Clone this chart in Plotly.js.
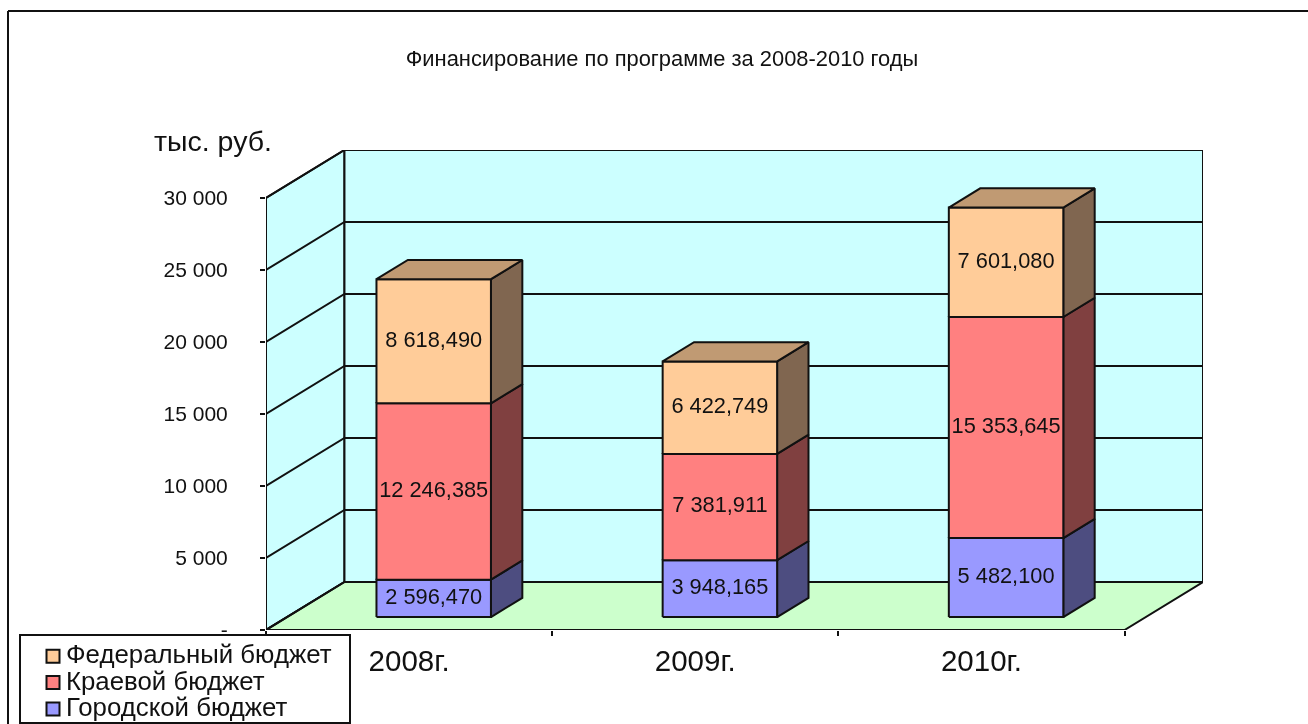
<!DOCTYPE html>
<html>
<head>
<meta charset="utf-8">
<script src="https://cdn.plot.ly/plotly-3.0.1.min.js"></script>
<style>
html,body{margin:0;padding:0;background:#fff;overflow:hidden}
#chart{width:1308px;height:724px;filter:blur(0.4px)}
.legend .legendsymbols{transform:translate(12px,2px)}
.legend .legendtext{font-size:25.8px !important;transform:translate(5px,2px)}
.legend rect.bg{width:330px !important;height:88px !important}
.legend .scrollbox{clip-path:none !important}
</style>
</head>
<body>
<div id="chart"></div>
<script>
const categories = ['2008г.', '2009г.', '2010г.'];
const cityBudget = [2596.470, 3948.165, 5482.100];
const regionalBudget = [12246.385, 7381.911, 15353.645];
const federalBudget = [8618.490, 6422.749, 7601.080];
const yTickValues = [0, 5000, 10000, 15000, 20000, 25000, 30000];
const yTickLabels = ['-', '5 000', '10 000', '15 000', '20 000', '25 000', '30 000'];
const seriesNames = ['Городской бюджет', 'Краевой бюджет', 'Федеральный бюджет'];
const frontColors = ['#9999FF', '#FF8080', '#FFCC99'];
const sideColors = ['#4D4D80', '#804040', '#806650'];
const topColor = '#C09A73';

const W = 1308, H = 724, L = 266, R = 1203, T = 150, B = 630;
const depthX = 78.5 / 286.33, depthY = 48 / 72 * 5000;
const yMax = 30000, catCount = categories.length;
const barHalf = 0.2, barShift = 0.512, d0 = 0.27, d1 = 0.67;
const ink = '#111';
const P = (c, v, d) => [c + d * depthX, v + d * depthY];

function faceTrace(polys, fill) {
  const x = [], y = [];
  polys.forEach(pg => {
    pg.concat([pg[0]]).forEach(p => { x.push(p[0]); y.push(p[1]); });
    x.push(null); y.push(null);
  });
  return {type:'scatter', mode:'lines', x, y, fill:'toself', fillcolor:fill,
    line:{color:ink, width:2}, showlegend:false, hoverinfo:'skip', cliponaxis:false};
}
function lineTrace(segs) {
  const x = [], y = [];
  segs.forEach(s => {
    s.forEach(p => { x.push(p[0]); y.push(p[1]); });
    x.push(null); y.push(null);
  });
  return {type:'scatter', mode:'lines', x, y, line:{color:ink, width:2},
    showlegend:false, hoverinfo:'skip', cliponaxis:false};
}
function fmt(v) {
  const parts = v.toFixed(3).split('.');
  return parts[0].replace(/\B(?=(\d{3})+$)/g, ' ') + ',' + parts[1];
}

const stacks = [cityBudget, regionalBudget, federalBudget];
const traces = [];

// walls and floor
traces.push(faceTrace([[P(0,0,0),P(0,yMax,0),P(0,yMax,1),P(0,0,1)]], '#CCFFFF'));
traces.push(faceTrace([[P(0,0,1),P(0,yMax,1),P(catCount,yMax,1),P(catCount,0,1)]], '#CCFFFF'));
traces.push(faceTrace([[P(0,0,0),P(0,0,1),P(catCount,0,1),P(catCount,0,0)]], '#CCFFCC'));
traces.push(lineTrace(yTickValues.map(v => [P(0,v,0),P(0,v,1),P(catCount,v,1)])));

// legend carriers, lying under the bar fronts
[2,1,0].forEach(s => {
  const base = categories.map((_,i) => stacks.slice(0,s).reduce((a,b)=>a+b[i],0));
  traces.push({type:'scatter', mode:'markers', name:seriesNames[s],
    x:categories.map((_,i)=>i+barShift+d0*depthX),
    y:categories.map((_,i)=>base[i]+stacks[s][i]/2+d0*depthY),
    marker:{symbol:'square', size:13, color:frontColors[s], line:{color:ink, width:2}},
    hoverinfo:'skip', cliponaxis:false});
});

// stacked boxes
stacks.forEach((vals, s) => {
  const fronts = [], sides = [];
  vals.forEach((v, i) => {
    const base = stacks.slice(0,s).reduce((a,b)=>a+b[i],0);
    const a = i + barShift - barHalf, b = i + barShift + barHalf;
    fronts.push([P(a,base,d0),P(a,base+v,d0),P(b,base+v,d0),P(b,base,d0)]);
    sides.push([P(b,base,d0),P(b,base+v,d0),P(b,base+v,d1),P(b,base,d1)]);
  });
  traces.push(faceTrace(sides, sideColors[s]));
  traces.push(faceTrace(fronts, frontColors[s]));
});
const tops = categories.map((_,i) => {
  const t = stacks.reduce((a,b)=>a+b[i],0);
  const a = i + barShift - barHalf, b = i + barShift + barHalf;
  return [P(a,t,d0),P(a,t,d1),P(b,t,d1),P(b,t,d0)];
});
traces.push(faceTrace(tops, topColor));

// value labels
stacks.forEach((vals, s) => {
  const bases = vals.map((_,i) => stacks.slice(0,s).reduce((a,b)=>a+b[i],0));
  traces.push({type:'scatter', mode:'text',
    x:vals.map((_,i)=>i+barShift+d0*depthX),
    y:vals.map((v,i)=>bases[i]+v/2+d0*depthY),
    text:vals.map(fmt), textposition:'middle center',
    textfont:{family:'Liberation Sans, Arial, sans-serif', size:21.8, color:ink},
    showlegend:false, hoverinfo:'skip', cliponaxis:false});
});

const px = v => (v - L) / (R - L);
const py = v => (B - v) / (B - T);

const layout = {
  width:W, height:H, margin:{l:L, r:W-R, t:T, b:H-B, pad:0, autoexpand:false},
  paper_bgcolor:'#fff', plot_bgcolor:'rgba(0,0,0,0)',
  font:{family:'Liberation Sans, Arial, sans-serif', color:ink},
  title:{text:'Финансирование по программе за 2008-2010 годы',
    font:{family:'Liberation Sans, Arial, sans-serif', size:21.9, color:ink},
    x:662/W, xanchor:'center', y:1-58/H, yanchor:'middle'},
  showlegend:true,
  legend:{x:px(19), xanchor:'left', y:py(634), yanchor:'top', bgcolor:'#fff',
    bordercolor:ink, borderwidth:2, font:{size:18, color:ink}, traceorder:'normal',
    itemclick:false, itemdoubleclick:false},
  xaxis:{range:[0, catCount + depthX], showgrid:false, zeroline:false, showline:false,
    tickmode:'array', tickvals:categories.map((_,i)=>i+0.5), ticktext:categories,
    ticks:'', ticklabelstandoff:10, tickfont:{size:29.5, color:ink},
    minor:{tickmode:'array', tickvals:[0,1,2,3], ticks:'outside', ticklen:5, tickwidth:2, tickcolor:ink}},
  yaxis:{range:[0, yMax + depthY], showgrid:false, zeroline:false, showline:false,
    tickmode:'array', tickvals:yTickValues, ticktext:yTickLabels,
    ticks:'outside', ticklen:5, tickwidth:2, tickcolor:ink, ticklabelstandoff:28,
    tickfont:{size:21, color:ink}},
  annotations:[{xref:'paper', yref:'paper', x:px(213), y:py(141), xanchor:'center', yanchor:'middle',
    text:'тыс. руб.', showarrow:false, font:{size:28.5, color:ink}}],
  shapes:[
    {type:'line', xref:'paper', yref:'paper', x0:px(8), x1:px(8), y0:py(11), y1:py(724), line:{color:ink, width:2}},
    {type:'line', xref:'paper', yref:'paper', x0:px(8), x1:px(1308), y0:py(11), y1:py(11), line:{color:ink, width:2}}
  ]
};
Plotly.newPlot('chart', traces, layout, {displayModeBar:false, responsive:false});
</script>
</body>
</html>
